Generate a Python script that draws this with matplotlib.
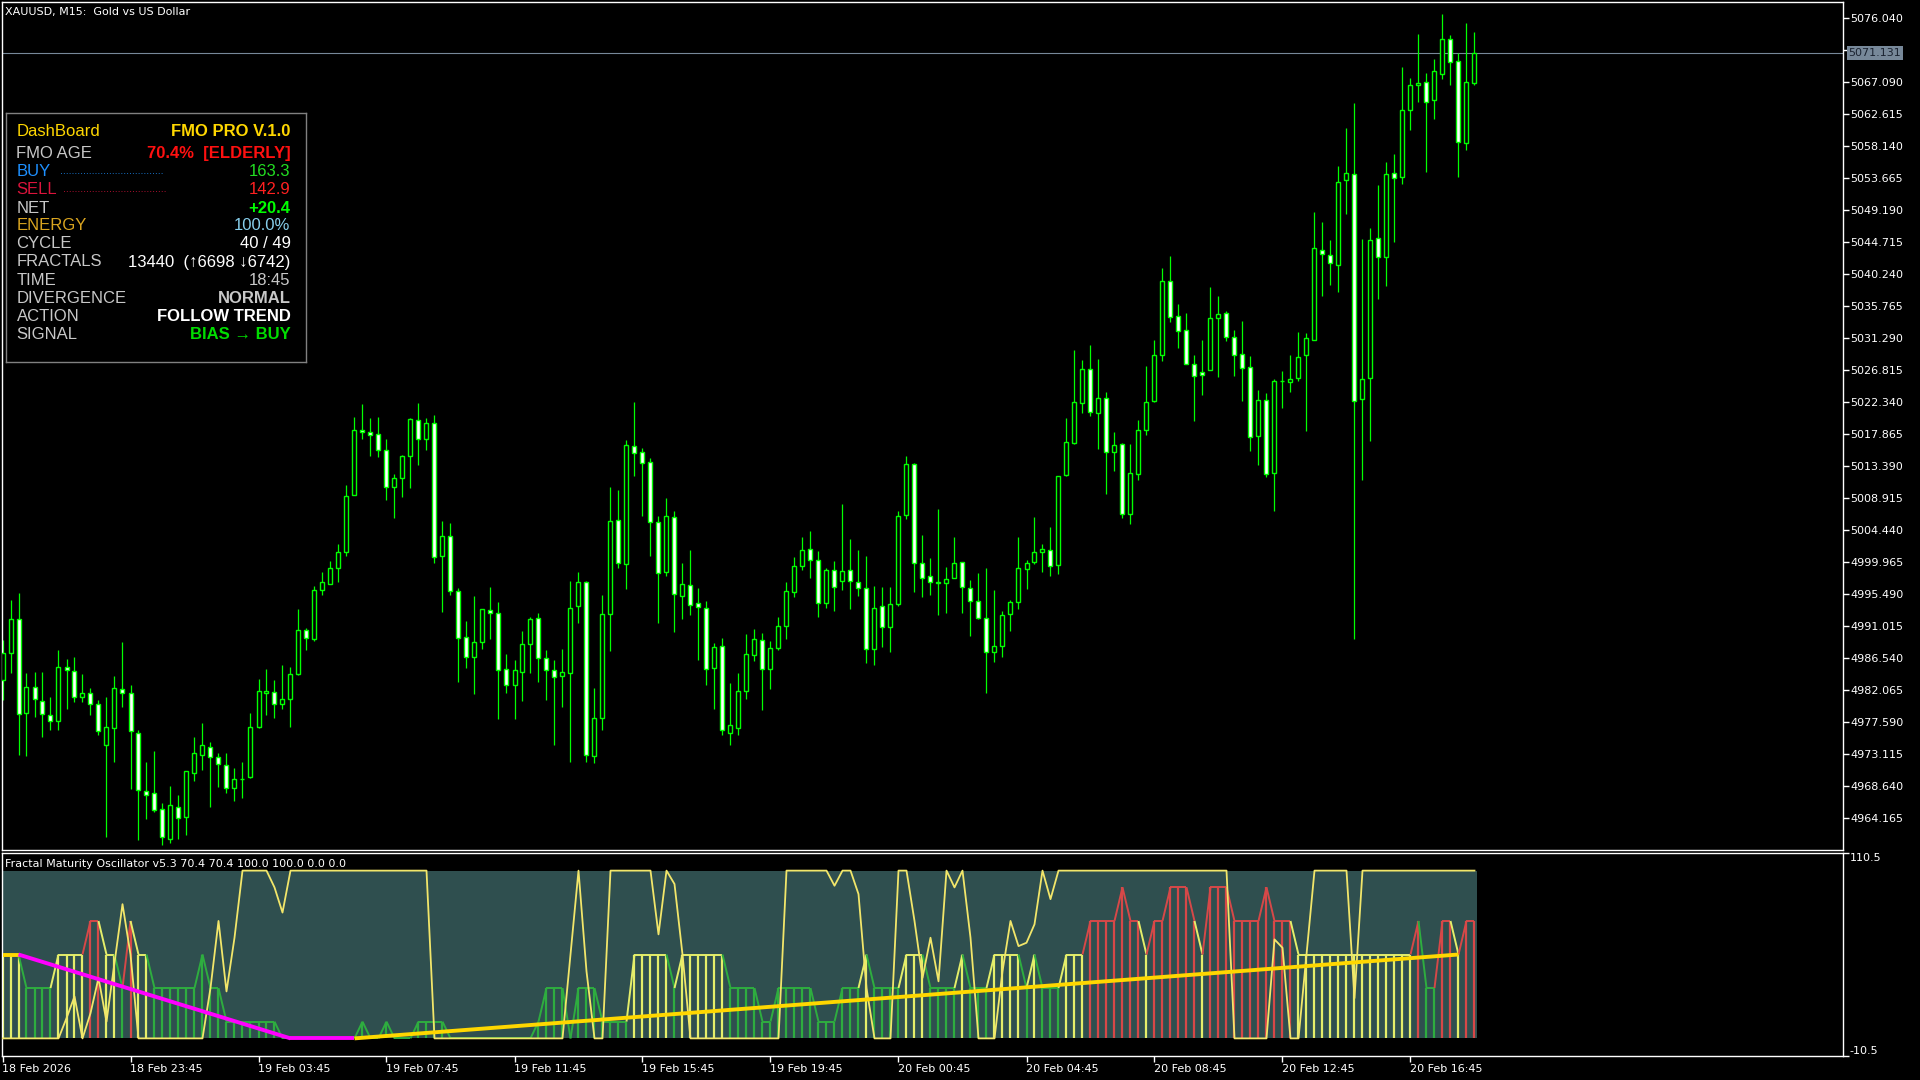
import matplotlib
matplotlib.use("Agg")
import matplotlib.pyplot as plt
import numpy as np

# ---- price data (M15 bars, oldest first) ----
opens = [4983.47, 4987.24, 4992.00, 4978.85, 4982.49, 4980.53, 4978.57, 4977.74, 4985.29, 4984.73,
         4981.09, 4981.65, 4980.11, 4974.38, 4976.76, 4982.21, 4981.65, 4976.06, 4967.95, 4967.67,
         4965.43, 4961.23, 4965.71, 4964.31, 4970.46, 4972.98, 4974.10, 4972.70, 4971.58, 4968.37,
         4969.62, 4969.90, 4976.90, 4981.65, 4981.79, 4980.11, 4980.81, 4984.31, 4990.46, 4989.20,
         4996.05, 4996.89, 4999.13, 5001.37, 5009.34, 5018.43, 5018.15, 5017.87, 5015.63, 5010.46,
         5011.72, 5014.79, 5019.83, 5017.17, 5019.41, 5000.81, 5003.61, 4995.91, 4989.48, 4986.69,
         4988.78, 4993.26, 4992.84, 4985.01, 4982.77, 4984.59, 4988.50, 4992.14, 4986.55, 4984.87,
         4984.03, 4984.45, 4993.82, 4997.17, 4972.84, 4978.15, 4992.70, 5005.84, 4999.69, 5016.19,
         5015.35, 5013.95, 5005.56, 4998.57, 5006.26, 4995.22, 4996.75, 4994.24, 4993.54, 4985.15,
         4988.22, 4976.06, 4976.76, 4981.93, 4986.96, 4989.06, 4985.01, 4987.94, 4991.02, 4995.77,
         4999.41, 5001.79, 5000.25, 4994.24, 4998.85, 4997.31, 4998.85, 4997.17, 4996.33, 4987.80,
         4993.82, 4990.88, 4994.10, 5006.54, 5013.67, 4999.83, 4998.01, 4997.10, 4997.03, 4997.73,
         4999.97, 4996.33, 4994.52, 4992.14, 4987.38, 4988.22, 4992.70, 4994.38, 4998.99, 4999.97,
         5001.37, 5001.65, 4999.55, 5012.14, 5016.61, 5022.20, 5026.96, 5020.81, 5022.90, 5015.35,
         5016.47, 5006.68, 5012.28, 5018.43, 5022.48, 5028.92, 5039.26, 5034.37, 5032.41, 5027.72,
         5026.54, 5026.82, 5034.09, 5034.79, 5031.43, 5029.06, 5027.24, 5017.59, 5022.62, 5012.42,
         5025.28, 5025.14, 5025.63, 5028.92, 5031.01, 5043.60, 5042.90, 5041.50, 5053.39, 5054.17,
         5022.76, 5025.63, 5045.22, 5042.62, 5054.37, 5053.75, 5063.18, 5066.67, 5067.03, 5064.58,
         5068.21, 5073.11, 5069.97, 5058.56, 5066.95]
highs = [4989.06, 4994.66, 4995.63, 4984.45, 4984.59, 4984.59, 4981.09, 4987.66, 4986.41, 4986.69,
         4984.31, 4982.35, 4980.67, 4981.09, 4984.03, 4988.78, 4982.77, 4976.48, 4972.00, 4973.54,
         4966.27, 4968.65, 4967.39, 4970.74, 4975.50, 4977.46, 4974.80, 4973.26, 4973.26, 4971.16,
         4972.00, 4978.85, 4983.61, 4985.01, 4983.47, 4985.57, 4985.29, 4993.40, 4990.74, 4996.61,
         4998.57, 5000.11, 5002.49, 5010.74, 5020.25, 5022.06, 5020.11, 5020.25, 5017.17, 5012.28,
         5014.93, 5020.11, 5022.20, 5020.11, 5020.53, 5005.70, 5005.42, 4996.33, 4991.72, 4995.22,
         4993.40, 4996.47, 4994.38, 4987.11, 4986.27, 4990.32, 4992.28, 4992.84, 4987.66, 4986.27,
         4987.80, 4997.31, 4998.57, 4997.25, 4982.35, 4995.36, 5010.46, 5010.04, 5017.03, 5022.34,
         5015.91, 5014.51, 5006.40, 5008.92, 5007.10, 4999.83, 5001.65, 4996.33, 4994.52, 4988.64,
         4989.34, 4983.05, 4984.45, 4989.90, 4990.60, 4990.04, 4988.92, 4992.28, 4997.17, 5000.67,
         5003.47, 5004.30, 5001.51, 4999.13, 5000.11, 5008.08, 5003.19, 5001.65, 5000.81, 4996.61,
         4996.47, 4996.47, 5007.10, 5014.79, 5013.75, 5003.75, 5000.53, 5007.38, 4999.27, 5003.47,
         5000.00, 4997.45, 4998.43, 4999.13, 4996.05, 4993.12, 4994.66, 5003.47, 5000.25, 5006.26,
         5002.49, 5004.86, 5012.05, 5020.11, 5029.62, 5028.22, 5030.32, 5028.36, 5023.74, 5018.15,
         5016.61, 5016.47, 5019.83, 5027.38, 5031.01, 5041.08, 5042.76, 5036.05, 5034.79, 5028.92,
         5031.01, 5038.43, 5037.17, 5035.07, 5032.41, 5033.67, 5028.78, 5024.02, 5023.60, 5025.56,
         5026.68, 5028.92, 5032.13, 5032.06, 5048.91, 5047.52, 5045.00, 5055.35, 5060.66, 5064.16,
         5045.14, 5046.68, 5052.69, 5055.91, 5057.02, 5069.19, 5067.65, 5073.81, 5068.35, 5070.31,
         5076.60, 5073.67, 5071.15, 5075.34, 5074.09]
lows = [4980.67, 4984.45, 4972.98, 4972.84, 4978.29, 4975.50, 4976.48, 4976.48, 4979.41, 4980.39,
        4980.39, 4978.57, 4975.78, 4961.51, 4972.00, 4979.69, 4968.23, 4961.09, 4964.03, 4965.01,
        4960.40, 4960.67, 4961.23, 4961.79, 4969.35, 4970.88, 4965.71, 4968.51, 4967.67, 4966.55,
        4966.97, 4969.76, 4976.80, 4978.57, 4978.15, 4979.41, 4976.90, 4984.17, 4987.66, 4988.92,
        4995.36, 4996.85, 4997.17, 5000.81, 5009.30, 5017.17, 5014.79, 5014.65, 5008.64, 5006.12,
        5009.06, 5010.32, 5013.53, 5015.63, 4999.83, 4992.98, 4995.36, 4983.19, 4985.15, 4981.51,
        4987.80, 4989.20, 4978.01, 4981.65, 4978.01, 4980.53, 4984.45, 4983.19, 4980.67, 4974.38,
        4979.69, 4972.00, 4991.44, 4972.00, 4971.86, 4976.48, 4987.52, 4999.13, 4996.19, 5012.00,
        5006.40, 5000.81, 4991.44, 4998.01, 4990.18, 4992.00, 4992.56, 4986.27, 4982.77, 4979.41,
        4975.78, 4974.38, 4975.78, 4980.81, 4986.13, 4979.27, 4982.21, 4987.66, 4989.20, 4995.08,
        4998.85, 4997.73, 4992.28, 4993.54, 4993.12, 4996.05, 4993.40, 4995.22, 4985.85, 4985.57,
        4988.08, 4987.38, 4993.82, 5005.98, 4995.77, 4995.08, 4995.36, 4992.56, 4992.84, 4997.70,
        4992.84, 4989.62, 4992.00, 4981.65, 4986.00, 4986.69, 4990.32, 4993.40, 4996.19, 4999.69,
        4998.57, 4998.01, 4998.29, 5012.00, 5016.47, 5020.81, 5020.39, 5015.77, 5009.48, 5012.69,
        5006.12, 5005.28, 5011.44, 5017.73, 5022.40, 5028.08, 5033.53, 5029.90, 5027.60, 5019.69,
        5023.32, 5026.80, 5025.84, 5030.87, 5025.98, 5022.48, 5015.49, 5013.53, 5011.86, 5007.10,
        5021.51, 5023.74, 5025.28, 5018.29, 5030.95, 5037.17, 5038.71, 5037.73, 5048.63, 4989.13,
        5011.44, 5016.89, 5036.75, 5038.57, 5044.72, 5052.83, 5060.38, 5064.30, 5054.51, 5061.92,
        5067.51, 5066.67, 5053.81, 5057.58, 5066.67]
closes = [4987.24, 4992.00, 4978.71, 4982.49, 4980.81, 4978.71, 4977.74, 4985.29, 4984.87, 4981.09,
          4981.65, 4980.11, 4976.34, 4976.90, 4982.35, 4981.65, 4976.34, 4968.09, 4967.39, 4965.29,
          4961.51, 4965.99, 4964.17, 4970.74, 4973.26, 4974.38, 4972.70, 4971.72, 4968.37, 4969.62,
          4969.60, 4976.90, 4981.93, 4981.93, 4980.11, 4980.81, 4984.31, 4990.46, 4989.34, 4996.05,
          4997.17, 4999.13, 5001.37, 5009.20, 5018.43, 5018.15, 5017.73, 5015.63, 5010.46, 5011.72,
          5014.79, 5019.97, 5017.17, 5019.41, 5000.67, 5003.61, 4995.91, 4989.34, 4986.69, 4988.78,
          4993.40, 4992.84, 4984.87, 4982.77, 4984.87, 4988.50, 4992.00, 4986.55, 4984.87, 4983.89,
          4984.59, 4993.54, 4997.17, 4972.98, 4978.15, 4992.70, 5005.70, 4999.83, 5016.33, 5015.21,
          5013.81, 5005.56, 4998.43, 5006.40, 4995.50, 4996.89, 4993.96, 4993.68, 4985.01, 4988.08,
          4976.48, 4977.18, 4981.93, 4987.11, 4989.20, 4985.01, 4987.94, 4991.02, 4995.91, 4999.41,
          5001.65, 5000.25, 4994.24, 4998.85, 4996.47, 4998.71, 4997.31, 4996.33, 4987.80, 4993.54,
          4990.88, 4994.10, 5006.40, 5013.67, 4999.83, 4997.73, 4997.17, 4997.10, 4997.59, 4999.83,
          4996.47, 4994.52, 4992.14, 4987.38, 4988.22, 4992.56, 4994.38, 4999.13, 4999.83, 5001.37,
          5001.79, 4999.41, 5012.00, 5016.75, 5022.34, 5026.96, 5020.95, 5022.90, 5015.35, 5016.33,
          5006.68, 5012.42, 5018.43, 5022.34, 5028.92, 5039.26, 5034.23, 5032.27, 5027.66, 5025.98,
          5026.12, 5034.09, 5034.65, 5031.43, 5028.92, 5027.10, 5017.45, 5022.62, 5012.28, 5025.28,
          5025.28, 5025.56, 5028.64, 5031.29, 5043.88, 5043.04, 5041.78, 5053.11, 5054.37, 5022.48,
          5025.56, 5045.05, 5042.62, 5054.23, 5053.67, 5063.18, 5066.67, 5066.95, 5064.30, 5068.63,
          5073.11, 5069.89, 5058.70, 5067.09, 5071.13]

# ---- oscillator data ----
hist_val = [50, 50, 50, 30, 30, 30, 30, 50, 50, 50,
            50, 70, 70, 50, 50, 30, 70, 50, 50, 30,
            30, 30, 30, 30, 30, 50, 30, 30, 10, 10,
            10, 10, 10, 10, 10, 0, 0, 0, 0, 0,
            0, 0, 0, 0, 0, 10, 0, 0, 10, 0,
            0, 0, 10, 10, 10, 10, 0, 0, 0, 0,
            0, 0, 0, 0, 0, 0, 0, 10, 30, 30,
            30, 0, 30, 30, 30, 10, 10, 10, 10, 50,
            50, 50, 50, 50, 30, 50, 50, 50, 50, 50,
            50, 30, 30, 30, 30, 10, 10, 30, 30, 30,
            30, 30, 10, 10, 10, 30, 30, 30, 50, 30,
            30, 30, 30, 50, 50, 50, 30, 30, 30, 30,
            50, 30, 30, 30, 50, 50, 50, 50, 30, 50,
            30, 30, 30, 50, 50, 50, 70, 70, 70, 70,
            90, 70, 70, 50, 70, 70, 90, 90, 90, 70,
            50, 90, 90, 90, 70, 70, 70, 70, 90, 70,
            70, 70, 50, 50, 50, 50, 50, 50, 50, 50,
            50, 50, 50, 50, 50, 50, 50, 70, 30, 30,
            70, 70, 50, 70, 70]
hist_col = ["R" if v >= 70 else ("Y" if v >= 50 else "G") for v in hist_val]
hist_col[25] = "G"

age_line = [0, 0, 0, 0, 0, 0, 0, 0, 12, 25,
            0, 15, 36, 10, 45, 80, 50, 0, 0, 0,
            0, 0, 0, 0, 0, 0, 30, 70, 28, 60,
            100, 100, 100, 100, 90, 75, 100, 100, 100, 100,
            100, 100, 100, 100, 100, 100, 100, 100, 100, 100,
            100, 100, 100, 100, 0, 0, 0, 0, 0, 0,
            0, 0, 0, 0, 0, 0, 0, 0, 0, 0,
            0, 50, 100, 40, 0, 0, 100, 100, 100, 100,
            100, 100, 62, 100, 92, 50, 0, 0, 0, 0,
            0, 0, 0, 0, 0, 0, 0, 0, 100, 100,
            100, 100, 100, 100, 91, 100, 100, 86, 30, 0,
            0, 0, 100, 100, 70, 36, 60, 34, 100, 90,
            100, 60, 0, 0, 0, 40, 70, 55, 57, 68,
            100, 83, 100, 100, 100, 100, 100, 100, 100, 100,
            100, 100, 100, 100, 100, 100, 100, 100, 100, 100,
            100, 100, 100, 100, 0, 0, 0, 0, 0, 59,
            54, 0, 0, 50, 100, 100, 100, 100, 100, 24,
            100, 100, 100, 100, 100, 100, 100, 100, 100, 100,
            100, 100, 100, 100, 100]

# trend line vertices (bar index, value, colour of the segment ending there)
trend_bar = [0, 2, 36, 44, 182]
trend_val = [50, 50, 0, 0, 50]
trend_col = ["gold", "magenta", "magenta", "gold"]

time_labels = ["18 Feb 2026", "18 Feb 23:45", "19 Feb 03:45", "19 Feb 07:45", "19 Feb 11:45",
               "19 Feb 15:45", "19 Feb 19:45", "20 Feb 00:45", "20 Feb 04:45", "20 Feb 08:45",
               "20 Feb 12:45", "20 Feb 16:45"]
time_label_bars = [0, 16, 32, 48, 64, 80, 96, 112, 128, 144, 160, 176]

last_price = 5071.131
price_ticks_top = 5076.040
price_tick_step = 4.475

# ---- layout (pixel based, figure is 1920x1080) ----
W, H = 1920, 1080
fig = plt.figure(figsize=(19.2, 10.8), dpi=100, facecolor="black")

def px_axes(x0, y0, x1, y1):
    return fig.add_axes([x0 / W, 1 - y1 / H, (x1 - x0) / W, (y1 - y0) / H])

ax = px_axes(2, 2, 1843, 850)
ax2 = px_axes(2, 853, 1843, 1056)

BULL = "#00FF00"
n = len(opens)
xs = np.arange(n)
xlim = ((2 - 2.5) / 8, (1843 - 2.5) / 8)

for a in (ax, ax2):
    a.set_facecolor("black")
    for s in a.spines.values():
        s.set_color("white")
        s.set_linewidth(1)
    a.set_xlim(*xlim)

# ---- candles ----
o = np.array(opens); c = np.array(closes)
ax.vlines(xs, lows, highs, color=BULL, linewidth=0.9, zorder=2)
up = c >= o
body_h = np.abs(c - o)
body_h = np.where(body_h < 0.05, 0.05, body_h)
ax.bar(xs[up], body_h[up], bottom=np.minimum(o, c)[up], width=0.5,
       facecolor="black", edgecolor=BULL, linewidth=1.0, zorder=3)
ax.bar(xs[~up], body_h[~up], bottom=np.minimum(o, c)[~up], width=0.5,
       facecolor="white", edgecolor=BULL, linewidth=1.0, zorder=3)

ax.set_ylim(5078.557 - 0.13984 * 850, 5078.557 - 0.13984 * 2)
ticks = [price_ticks_top - price_tick_step * i for i in range(26)]
ax.yaxis.tick_right()
ax.set_yticks(ticks)
ax.set_yticklabels([f"{t:.3f}" for t in ticks])
ax.tick_params(axis="y", colors="white", direction="out", length=4, width=1,
               labelsize=8, pad=1)
ax.set_xticks([])

# current price line + label
ax.axhline(last_price, color="#778899", linewidth=0.8, zorder=1)
ax.text(1.003, last_price, f"{last_price:.3f}", transform=ax.get_yaxis_transform(),
        va="center", ha="left", fontsize=8, color="#1a2230",
        bbox=dict(boxstyle="square,pad=0.15", facecolor="#778899", edgecolor="none"),
        clip_on=False, zorder=10)

fig.text(5 / W, 1 - 12 / H, "XAUUSD, M15:  Gold vs US Dollar", color="white",
         fontsize=8, va="center", ha="left")

# ---- dashboard ----
dash = fig.add_axes([6 / W, 1 - 362 / H, 300 / W, 249 / H])
dash.set_xlim(0, 300); dash.set_ylim(249, 0)
dash.set_facecolor("black")
dash.set_xticks([]); dash.set_yticks([])
for s in dash.spines.values():
    s.set_color("#808080"); s.set_linewidth(1)

fam = ["Liberation Sans", "DejaVu Sans"]
rows = [
    ("DashBoard", "#FFD700", "FMO PRO V.1.0", "#FFD700", "bold"),
    ("FMO AGE", "#C8C8C8", "70.4%  [ELDERLY]", "#FF1010", "bold"),
    ("BUY", "#1E90FF", "163.3", "#22DD22", "normal"),
    ("SELL", "#DC143C", "142.9", "#FF2020", "normal"),
    ("NET", "#C8C8C8", "+20.4", "#00FF00", "bold"),
    ("ENERGY", "#DAA520", "100.0%", "#87CEEB", "normal"),
    ("CYCLE", "#C8C8C8", "40 / 49", "white", "normal"),
    ("FRACTALS", "#C8C8C8", "13440  (\u21916698 \u21936742)", "white", "normal"),
    ("TIME", "#C8C8C8", "18:45", "#C8C8C8", "normal"),
    ("DIVERGENCE", "#C8C8C8", "NORMAL", "#C8C8C8", "bold"),
    ("ACTION", "#C8C8C8", "FOLLOW TREND", "white", "bold"),
    ("SIGNAL", "#C8C8C8", "BIAS \u2192 BUY", "#00DD00", "bold"),
]
row_y = [18.5, 40.5, 59, 77, 95.5, 113, 131, 149, 167.5, 185, 203, 221]
for (lab, lc, val, vc, wt), yy in zip(rows, row_y):
    dash.text(10.5, yy, lab, color=lc, fontsize=12, family=fam, va="center", ha="left")
    dash.text(284.5, yy, val, color=vc, fontsize=12, family=fam, va="center", ha="right",
              fontweight=wt)
dash.text(54, 58, "." * 36, color="#1E90FF", fontsize=7.5, family=fam, va="center", ha="left")
dash.text(57, 76, "." * 36, color="#DC143C", fontsize=7.5, family=fam, va="center", ha="left")

# ---- oscillator ----
COLS = {"Y": "#E4EE6A", "G": "#2EAD3F", "R": "#D64848", "gold": "#FFD700", "magenta": "#FF00FF"}
ax2.set_ylim(-10.5, 110.5)
ax2.fill_between([-0.45, n - 1 + 0.3], 0, 100, color="#2F4F4F", linewidth=0, zorder=0)
hv = np.array(hist_val, dtype=float)
ax2.vlines(xs, 0, hv, colors=[COLS[k] for k in hist_col], linewidth=1.6, zorder=2)
for i in range(1, n):
    ax2.plot([i - 1, i], [hv[i - 1], hv[i]], color=COLS[hist_col[i]], linewidth=1.4,
             zorder=2, solid_capstyle="butt")
ax2.plot(xs, age_line, color="#F2E66A", linewidth=1.3, zorder=3)
for i in range(len(trend_bar) - 1):
    ax2.plot(trend_bar[i:i + 2], trend_val[i:i + 2], color=COLS[trend_col[i]],
             linewidth=2.8, zorder=4, solid_capstyle="butt")

ax2.yaxis.tick_right()
ax2.set_yticks([110.5, -10.5])
ax2.set_yticklabels(["110.5", "-10.5"])
ax2.tick_params(axis="y", colors="white", direction="out", length=4, width=1,
                labelsize=8, pad=1)
for lbl, va in zip(ax2.get_yticklabels(), ["top", "bottom"]):
    lbl.set_verticalalignment(va)

ax2.set_xticks(time_label_bars)
ax2.set_xticklabels(time_labels)
ax2.tick_params(axis="x", colors="white", direction="out", length=4, width=1,
                labelsize=8, pad=2)
for lbl in ax2.get_xticklabels():
    lbl.set_horizontalalignment("left")

fig.text(5 / W, 1 - 864 / H,
         "Fractal Maturity Oscillator v5.3 70.4 70.4 100.0 100.0 0.0 0.0",
         color="white", fontsize=8, va="center", ha="left")

fig.savefig("out.png", dpi=100, facecolor="black")
